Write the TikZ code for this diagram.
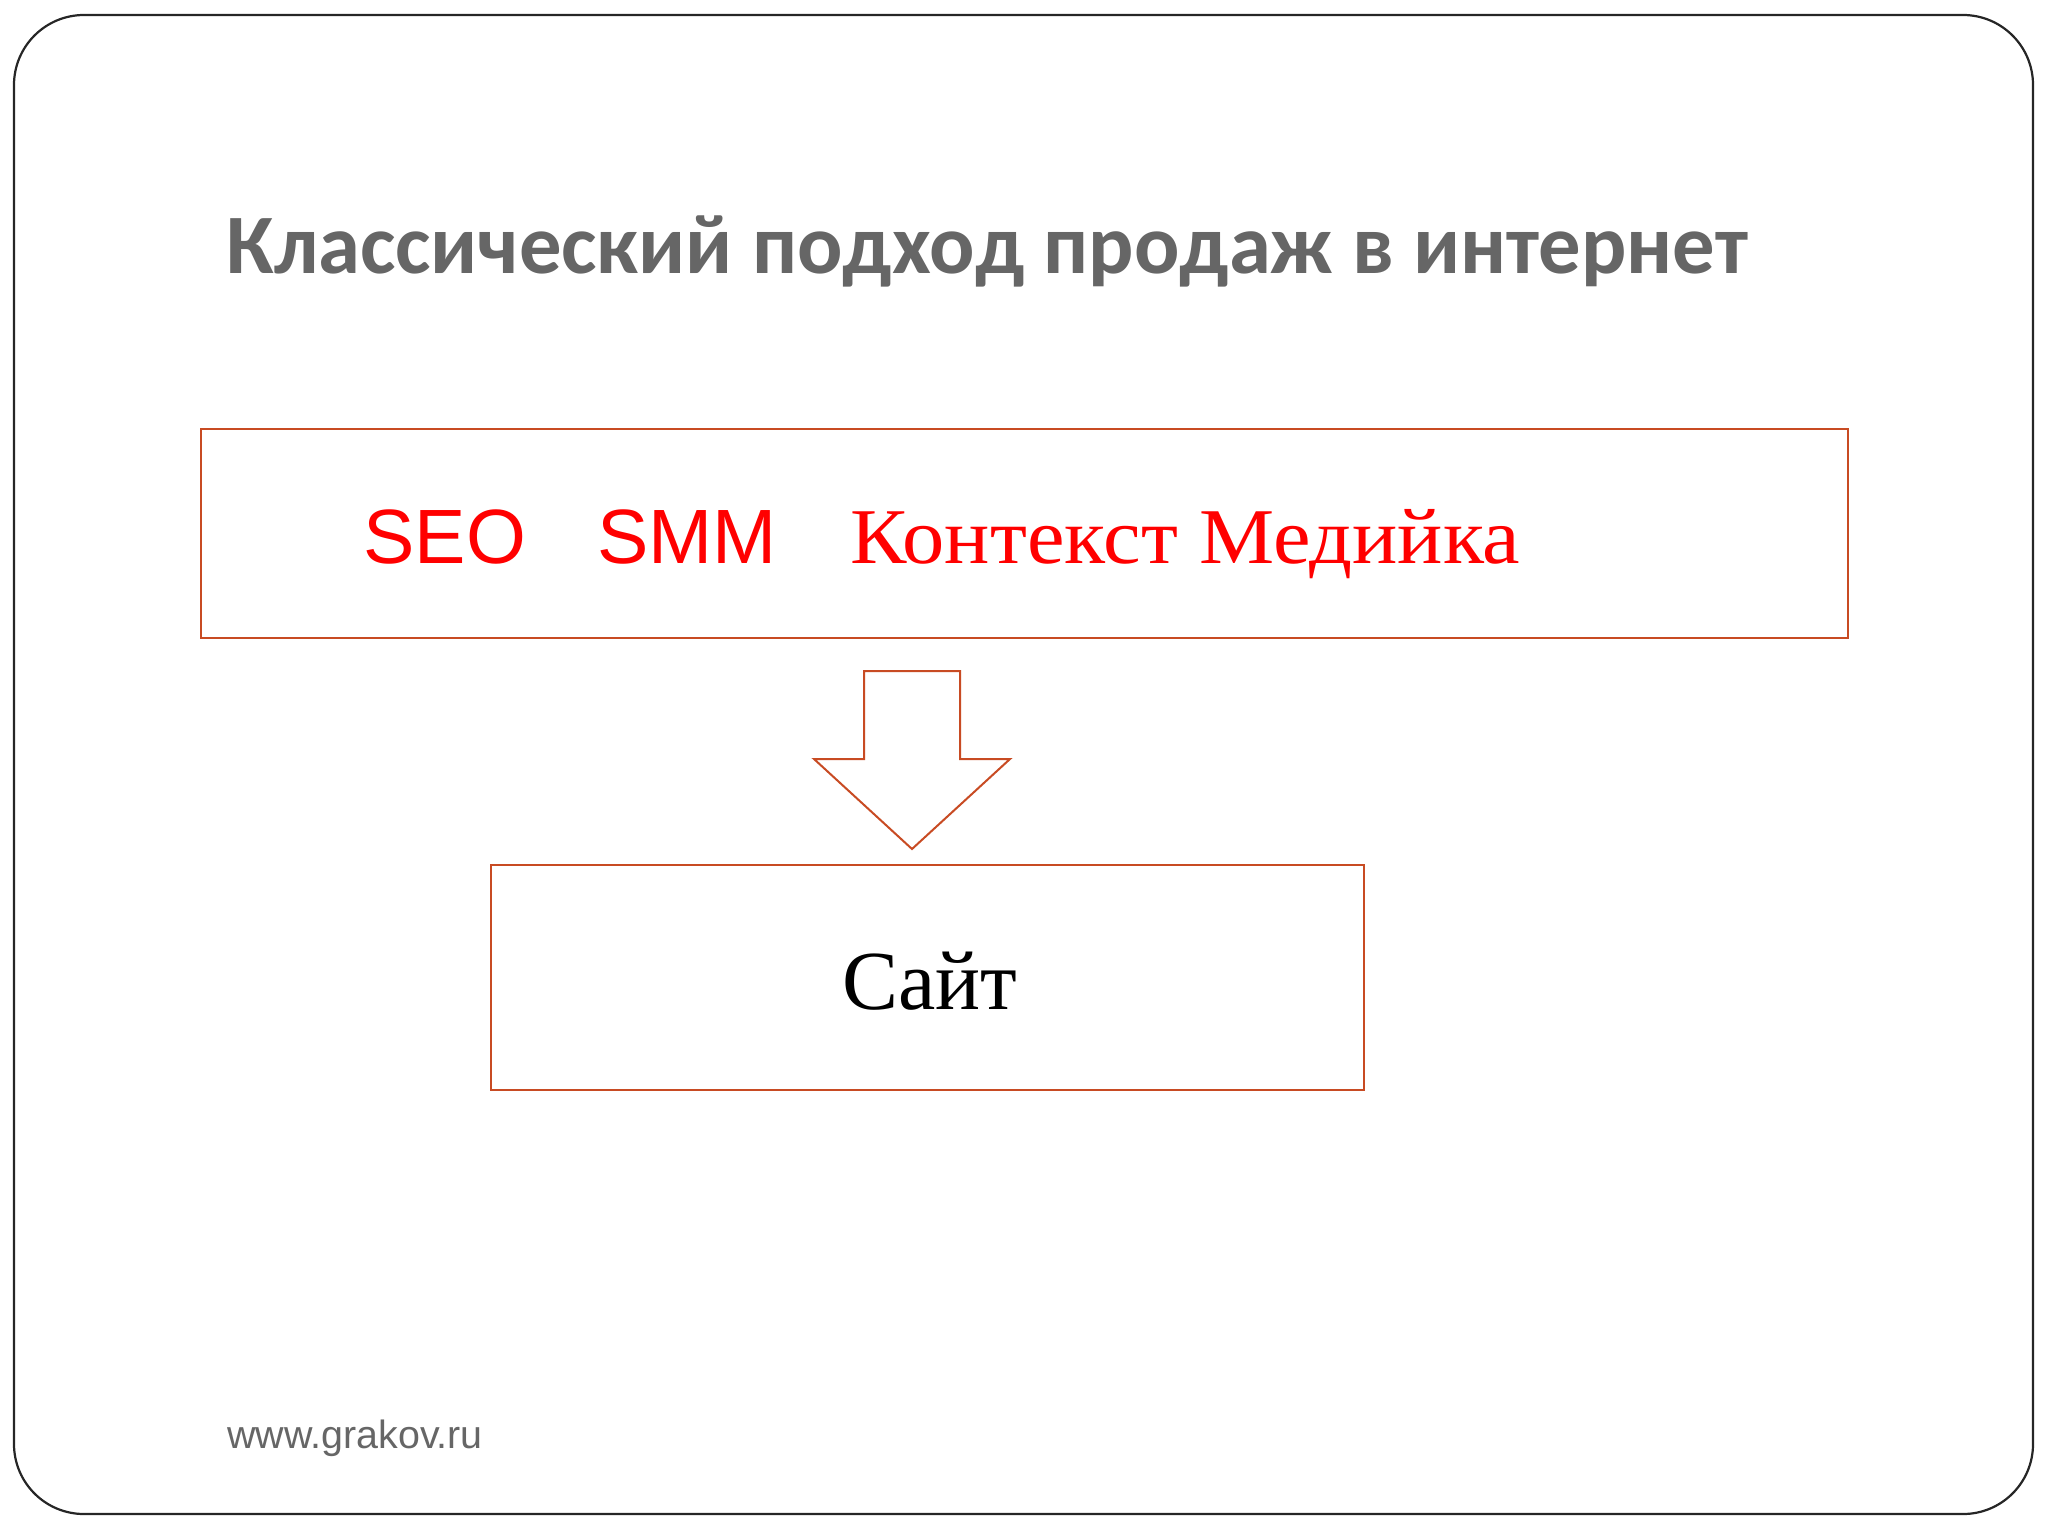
\documentclass[tikz,border=0pt]{standalone}
\usepackage{fontspec}
\setmainfont{Liberation Serif}
\setsansfont{Liberation Sans}
\newfontfamily\titlefont{Carlito}
\newfontfamily\widefont[FakeStretch=1.07]{Liberation Serif}
\usetikzlibrary{calc}
\definecolor{myboxline}{RGB}{200,75,35}
\colorlet{mygray}{black!60}
\definecolor{myred}{RGB}{255,0,0}
\tikzset{
  frame/.style={draw=black!85, line width=1.1pt, rounded corners=35pt},
  blockbox/.style={draw=myboxline, line width=1.1pt},
  redsans/.style={text=myred, font=\sffamily\fontsize{38.5}{44}\selectfont, inner sep=0pt},
  redserif/.style={text=myred, font=\widefont\fontsize{39.5}{44}\selectfont, inner sep=0pt},
}

\begin{document}
\begin{tikzpicture}[x=0.5pt, y=-0.5pt]
    \useasboundingbox (0,0) rectangle (2048,1536);

    % SLIDE
    \draw[frame] (14,15) rectangle (2033,1514);
    \node[anchor=base west, inner sep=0pt, text=mygray,
          font=\titlefont\bfseries\fontsize{42.3}{48}\selectfont]
        (title) at (226,273) {Классический подход продаж в интернет};

    % CHANNELS
    \coordinate (C1) at (201,429);
    \coordinate (C2) at (1848,638);
    \draw[blockbox] (C1) rectangle (C2);
    \node[redsans, anchor=base west] (seo) at (363,563) {SEO};
    \node[redsans, anchor=base west] (smm) at (597,563) {SMM};
    \node[redserif, anchor=base west] (ctx) at (850,563) {Контекст Медийка};

    % SITE
    \coordinate (S1) at (491,865);
    \coordinate (S2) at (1364,1090);
    \draw[blockbox] (S1) rectangle (S2);
    \node[anchor=base, inner sep=0pt, font=\rmfamily\fontsize{42}{48}\selectfont]
        (site) at (930,1009) {Сайт};

    % ARROW
    \pgfmathsetmacro\ax{912}
    \draw[blockbox, line width=1pt, line join=miter] (\ax-48,671) -- (\ax+48,671) -- (\ax+48,759)
        -- (\ax+98,759) -- (\ax,849) -- (\ax-98,759) -- (\ax-48,759) -- cycle;

    % FOOTER
    \node[anchor=base west, inner sep=0pt, text=mygray,
          font=\sffamily\fontsize{19.7}{24}\selectfont]
        (web) at (227,1448) {www.grakov.ru};
\end{tikzpicture}
\end{document}
